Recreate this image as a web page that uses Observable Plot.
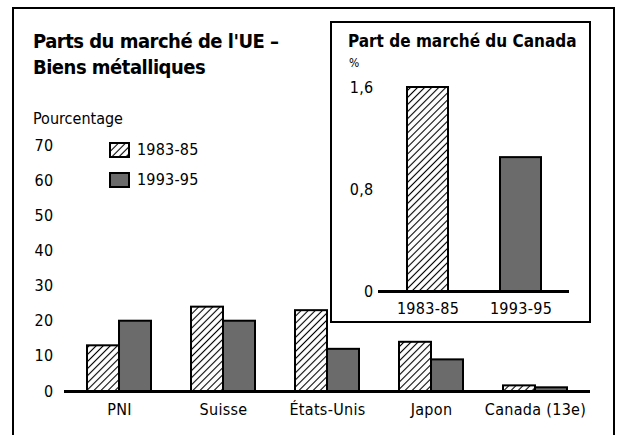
<!DOCTYPE html>
<html>
<head>
<meta charset="utf-8">
<script src="https://cdn.jsdelivr.net/npm/d3@7"></script>
<script src="https://cdn.jsdelivr.net/npm/@observablehq/plot@0.6"></script>
<style>
  html, body { margin: 0; padding: 0; background: #fff; }
  body { width: 622px; height: 435px; overflow: hidden; position: relative;
         font-family: "DejaVu Sans Condensed", "Liberation Sans Narrow", sans-serif; color: #000; }
  .abs { position: absolute; }
  .frame { left: 12px; top: 7px; width: 603px; height: 460px; border: 2.5px solid #000; box-sizing: border-box; }
  .title { left: 33px; top: 28px; font-size: 20px; font-weight: bold; line-height: 26px; letter-spacing: -0.5px; white-space: nowrap; }
  .ylab { left: 33px; top: 109px; font-size: 16px; line-height: 20px; letter-spacing: 0px; }
  .legend { left: 109px; font-size: 16px; line-height: 20px; letter-spacing: 0.2px; display: flex; align-items: center; }
  .legend svg { margin-right: 7px; }
  .inbox { left: 330px; top: 21px; width: 261px; height: 302px; border: 2.5px solid #000; box-sizing: border-box; background: #fff; }
  .intitle { left: 348px; top: 30px; font-size: 17px; font-weight: bold; line-height: 22px; letter-spacing: 0px; white-space: nowrap; }
  .pct { left: 349px; top: 56px; font-size: 12px; line-height: 14px; }
  svg.plot text { letter-spacing: 0.3px; }
</style>
</head>
<body>
<svg width="0" height="0" style="position:absolute">
  <defs>
    <pattern id="hatch" patternUnits="userSpaceOnUse" width="5" height="5" patternTransform="rotate(45)">
      <rect x="0" y="0" width="5" height="5" fill="#fff"></rect>
      <line x1="2.5" y1="0" x2="2.5" y2="5" stroke="#000" stroke-width="1.1"></line>
    </pattern>
  </defs>
</svg>
<div class="abs frame"></div>
<div id="main" class="abs" style="left:0;top:0"></div>
<div class="abs title">Parts du marché de l'UE –<br>Biens métalliques</div>
<div class="abs ylab">Pourcentage</div>
<div id="leg"></div>
<div class="abs inbox"></div>
<div id="inset" class="abs" style="left:331px;top:22px"></div>
<div class="abs intitle">Part de marché du Canada</div>
<div class="abs pct">%</div>
<script>
// ---- data ----
const categories = ["PNI", "Suisse", "États-Unis", "Japon", "Canada (13e)"];
const periods = ["1983-85", "1993-95"];
const share8385 = [13, 24, 23, 14, 1.6];
const share9395 = [20, 20, 12, 9, 1.05];
const yTicks = [0, 10, 20, 30, 40, 50, 60, 70];

const insetPeriods = ["1983-85", "1993-95"];
const canadaShare = [1.6, 1.05];
const insetTicks = [0, 0.8, 1.6];

const periodFill = ["url(#hatch)", "#6b6b6b"];

// ---- main chart ----
const W = 622, H = 435;
const mL = 64, mR = 32, mT = 145, mB = 44;
const pIn = 0.389, pOut = 0.205;
const step = (W - mL - mR) / (categories.length - pIn + 2 * pOut);
const bw = step * (1 - pIn);

const rowsA = categories.map((c, i) => ({category: c, period: periods[0], value: share8385[i]}));
const rowsB = categories.map((c, i) => ({category: c, period: periods[1], value: share9395[i]}));

const font = '"DejaVu Sans Condensed", "Liberation Sans Narrow", sans-serif';

const main = Plot.plot({
  width: W, height: H,
  marginLeft: mL, marginRight: mR, marginTop: mT, marginBottom: mB,
  style: {fontFamily: font, fontSize: "16px", color: "#000", background: "transparent", overflow: "visible"},
  x: {domain: categories, paddingInner: pIn, paddingOuter: pOut, label: null, tickSize: 0, tickPadding: 12},
  y: {domain: [0, 70], ticks: yTicks, label: null, tickSize: 0, tickPadding: 11},
  marks: [
    Plot.barY(rowsA, {x: "category", y: "value", fill: periodFill[0], stroke: "#000", strokeWidth: 2, insetLeft: 0, insetRight: bw / 2}),
    Plot.barY(rowsB, {x: "category", y: "value", fill: periodFill[1], stroke: "#000", strokeWidth: 2, insetLeft: bw / 2, insetRight: 0}),
    Plot.ruleY([0], {stroke: "#000", strokeWidth: 3})
  ]
});
main.classList.add("plot");
document.getElementById("main").appendChild(main);

// ---- legend ----
const leg = document.getElementById("leg");
periods.forEach((p, i) => {
  const row = document.createElement("div");
  row.className = "abs legend";
  row.style.top = (140 + i * 30) + "px";
  row.innerHTML = `<svg width="21" height="17"><rect x="1" y="1" width="19" height="14" fill="${periodFill[i]}" stroke="#000" stroke-width="2"></rect></svg><span>${p}</span>`;
  leg.appendChild(row);
});

// ---- inset ----
const iW = 259, iH = 300;
const iL = 47, iR = 21, iT = 65, iB = 31;
const ipIn = 0.564, ipOut = 0.298;
const iRows = insetPeriods.map((p, i) => ({period: p, value: canadaShare[i]}));
const inset = Plot.plot({
  width: iW, height: iH,
  marginLeft: iL, marginRight: iR, marginTop: iT, marginBottom: iB,
  style: {fontFamily: font, fontSize: "16px", color: "#000", background: "transparent", overflow: "visible"},
  x: {domain: insetPeriods, paddingInner: ipIn, paddingOuter: ipOut, label: null, tickSize: 0, tickPadding: 11},
  y: {domain: [0, 1.6], ticks: insetTicks, tickFormat: d => String(d).replace(".", ","), label: null, tickSize: 0, tickPadding: 5},
  marks: [
    Plot.barY(iRows, {x: "period", y: "value", fill: d => periodFill[insetPeriods.indexOf(d.period)], stroke: "#000", strokeWidth: 2}),
    Plot.ruleY([0], {stroke: "#000", strokeWidth: 3})
  ]
});
inset.classList.add("plot");
document.getElementById("inset").appendChild(inset);
</script>
</body>
</html>
